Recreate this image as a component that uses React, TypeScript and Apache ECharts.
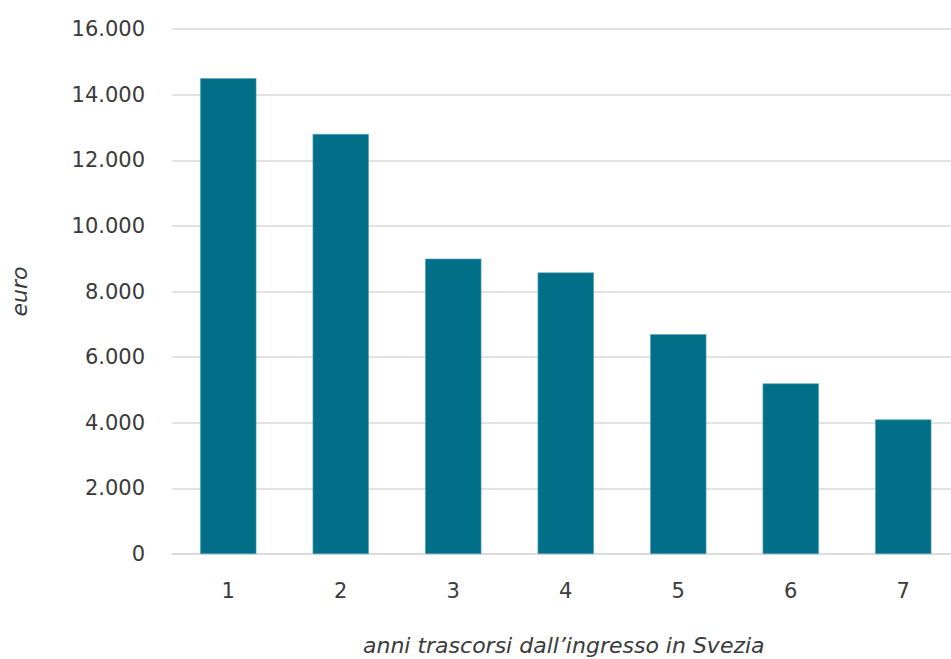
import React, { useEffect, useRef } from "react";
import * as echarts from "echarts";

const categories = ["1", "2", "3", "4", "5", "6", "7"];
const values = [14500, 12800, 9000, 8580, 6700, 5200, 4100];
const yMin = 0;
const yMax = 16000;
const yInterval = 2000;

const fmt = (v: number) => v.toString().replace(/\B(?=(\d{3})+(?!\d))/g, ".");

export default function App() {
  const ref = useRef<HTMLDivElement>(null);
  useEffect(() => {
    if (!ref.current) return;
    const chart = echarts.init(ref.current, undefined, { renderer: "svg" });
    const font = "'DejaVu Sans', sans-serif";
    chart.setOption({
      animation: false,
      grid: { left: 172, top: 29, width: 787.5, height: 525, containLabel: false, outerBoundsMode: "none" },
      xAxis: {
        type: "category",
        data: categories,
        axisLine: { show: true, lineStyle: { color: "#d9d9d9", width: 1.5 } },
        axisTick: { show: false },
        axisLabel: { color: "#3a3a3a", fontSize: 21, fontFamily: font, margin: 26 },
        name: "anni trascorsi dall\u2019ingresso in Svezia",
        nameLocation: "middle",
        nameGap: 80,
        nameTextStyle: { color: "#3a3a3a", fontSize: 22, fontStyle: "italic", fontFamily: font, padding: [0, 0, 0, -4] },
      },
      yAxis: {
        type: "value",
        min: yMin,
        max: yMax,
        interval: yInterval,
        axisLine: { show: false },
        axisTick: { show: false },
        splitLine: { lineStyle: { color: "#d9d9d9", width: 1.5 } },
        axisLabel: { color: "#3a3a3a", fontSize: 21, fontFamily: font, margin: 27, formatter: (v: number) => fmt(v) },
        name: "euro",
        nameLocation: "middle",
        nameGap: 142,
        nameRotate: 90,
        nameTextStyle: { color: "#3a3a3a", fontSize: 22, fontStyle: "italic", fontFamily: font },
      },
      series: [
        {
          type: "bar",
          data: values,
          barWidth: "50%",
          itemStyle: { color: "#006F87", borderColor: "#5aa6b8", borderWidth: 0.6 },
        },
      ],
    });
    return () => chart.dispose();
  }, []);
  return <div ref={ref} style={{ position: "fixed", left: 0, top: 0, width: 951, height: 659, background: "#fff" }} />;
}
